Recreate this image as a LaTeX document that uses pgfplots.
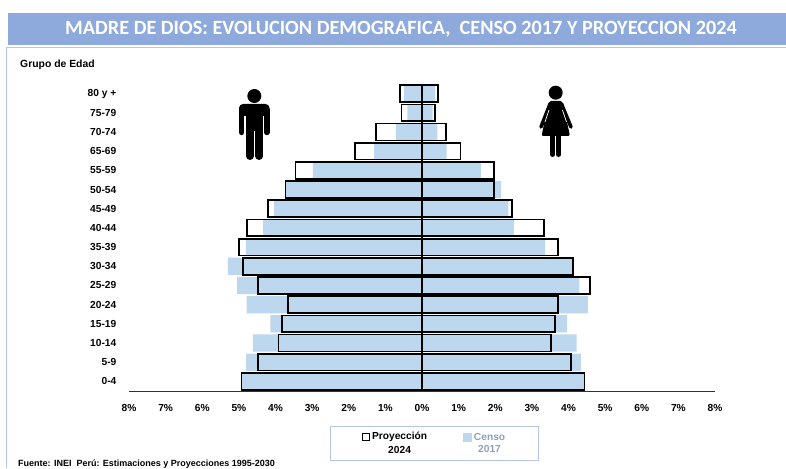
\documentclass[border=0pt]{standalone}
\usepackage{fontspec}
\setmainfont{Liberation Sans}
\newfontfamily\titlefont{Carlito}
\usepackage{pgfplots}
\pgfplotsset{compat=1.18}
\definecolor{banda}{HTML}{8EA9DB}
\definecolor{marco}{HTML}{B4C7E7}
\definecolor{censo}{HTML}{BDD7EE}
\definecolor{censotxt}{HTML}{8EA0BF}
\begin{document}
\begin{tikzpicture}[x=1pt,y=1pt]
\path[use as bounding box] (0,0) rectangle (786,468);
\clip (0,0) rectangle (786,468);
\fill[white] (0,0) rectangle (786,468);
% banner and frame
\begin{scope}[shift={(0,468)},yscale=-1]
\fill[banda] (8,13) rectangle (786,45);
\draw[marco,line width=1pt] (6,468) -- (6,47.5) -- (786,47.5);
\end{scope}
\node[text=white,font=\titlefont\bfseries\fontsize{20.25}{22}\selectfont,anchor=center] at (401,438.5)
  {MADRE DE DIOS: EVOLUCION DEMOGRAFICA,\ \ CENSO 2017 Y PROYECCION 2024};
\node[anchor=west,inner sep=0pt,font=\bfseries\fontsize{10.4}{12}\selectfont] at (20,403.5) {Grupo de Edad};
\node[anchor=base west,inner sep=0pt,font=\bfseries\fontsize{9}{10}\selectfont] at (18,1.5)
  {Fuente: INEI\ \ Perú: Estimaciones y Proyecciones 1995-2030};
\begin{axis}[
  at={(129pt,77pt)}, anchor=south west,
  scale only axis, width=586pt, height=307pt,
  xmin=-8, xmax=8, ymin=-0.5, ymax=15.5,
  axis x line=bottom, axis y line=left,
  x axis line style={-,draw=black!80,line width=0.8pt},
  y axis line style={draw=none},
  tick style={draw=none},
  xtick={-8,-7,-6,-5,-4,-3,-2,-1,0,1,2,3,4,5,6,7,8},
  xticklabels={8\%,7\%,6\%,5\%,4\%,3\%,2\%,1\%,0\%,1\%,2\%,3\%,4\%,5\%,6\%,7\%,8\%},
  ytick={0,1,...,15},
  yticklabels={0-4,5-9,10-14,15-19,20-24,25-29,30-34,35-39,40-44,45-49,50-54,55-59,65-69,70-74,75-79,80 y +},
  tick label style={font=\bfseries\fontsize{10.2}{11}\selectfont},
  yticklabel style={xshift=-7pt},
  xticklabel style={yshift=-8pt},
  legend cell align=left,
  legend columns=2,
  legend style={at={(0.5213,-0.171)},anchor=center,draw=marco,line width=0.9pt,
    font=\bfseries\fontsize{10.2}{12}\selectfont,
    inner xsep=31pt,inner ysep=3.5pt,/tikz/every even column/.append style={column sep=34pt}},
]
% censo 2017
\addplot[forget plot,xbar,bar width=17.3pt,bar shift=0pt,fill=censo,draw=none] coordinates {
(4.43,0)(4.34,1)(4.22,2)(3.96,3)(4.53,4)(4.30,5)(4.13,6)(3.36,7)(2.51,8)(2.36,9)(2.16,10)(1.61,11)(0.67,12)(0.42,13)(0.29,14)(0.36,15)};
\addplot[forget plot,xbar,bar width=17.3pt,bar shift=0pt,fill=censo,draw=none] coordinates {
(-4.93,0)(-4.80,1)(-4.62,2)(-4.14,3)(-4.79,4)(-5.05,5)(-5.30,6)(-4.81,7)(-4.34,8)(-4.04,9)(-3.71,10)(-2.98,11)(-1.31,12)(-0.71,13)(-0.40,14)(-0.49,15)};
% proyeccion 2024
\addplot[forget plot,xbar,bar width=16.8pt,bar shift=0pt,fill=none,draw=black,line width=1.7pt] coordinates {
(4.44,0)(4.06,1)(3.53,2)(3.63,3)(3.71,4)(4.58,5)(4.12,6)(3.71,7)(3.33,8)(2.45,9)(1.96,10)(1.96,11)(1.05,12)(0.65,13)(0.35,14)(0.44,15)};
\addplot[forget plot,xbar,bar width=16.8pt,bar shift=0pt,fill=none,draw=black,line width=1.7pt] coordinates {
(-4.93,0)(-4.48,1)(-3.92,2)(-3.83,3)(-3.66,4)(-4.48,5)(-4.88,6)(-5.00,7)(-4.77,8)(-4.20,9)(-3.73,10)(-3.45,11)(-1.83,12)(-1.26,13)(-0.56,14)(-0.60,15)};
\addplot[forget plot,black,line width=1.5pt] coordinates {(0,-0.5)(0,15.5)};
\addlegendimage{area legend,
  legend image code/.code={\draw[black,fill=white,line width=1.3pt] (0pt,3pt) rectangle (7pt,10pt);}}
\addlegendentry{\shortstack{Proyección\\[2pt]2024}}
\addlegendimage{area legend,
  legend image code/.code={\fill[censo] (0pt,2pt) rectangle (8pt,10pt);}}
\addlegendentry{\shortstack{\textcolor{censotxt}{Censo}\\[2pt]\textcolor{censotxt}{2017}}}
\end{axis}
% figures
\begin{scope}[shift={(0,468)},yscale=-1]
\fill (254.3,96) circle (7);
\fill[rounded corners=4pt] (239,104) rectangle (269.5,116);
\draw[line width=5.4pt,line cap=round] (241.7,110) -- (241.7,132.5) (266.8,110) -- (266.8,132.5);
\fill (246,106) rectangle (263.4,133);
\draw[line width=8pt,line cap=round] (250,130) -- (250,156) (259.3,130) -- (259.3,156);
\draw[white,line width=0.8pt] (254.6,131) -- (254.6,160);
\fill (555.7,92.7) circle (7);
\fill[rounded corners=2pt] (549,101) -- (562.5,101) -- (570,136) -- (541.5,136) -- cycle;
\draw[line width=3.6pt,line cap=round] (550,104) -- (541,127) (561.5,104) -- (571,127);
\draw[white,line width=0.7pt] (549,110) -- (545,122) (562.5,110) -- (566.5,122);
\draw[line width=5pt,line cap=round] (552.7,134) -- (552.7,154.5) (558.8,134) -- (558.8,154.5);
\end{scope}
\end{tikzpicture}
\end{document}
